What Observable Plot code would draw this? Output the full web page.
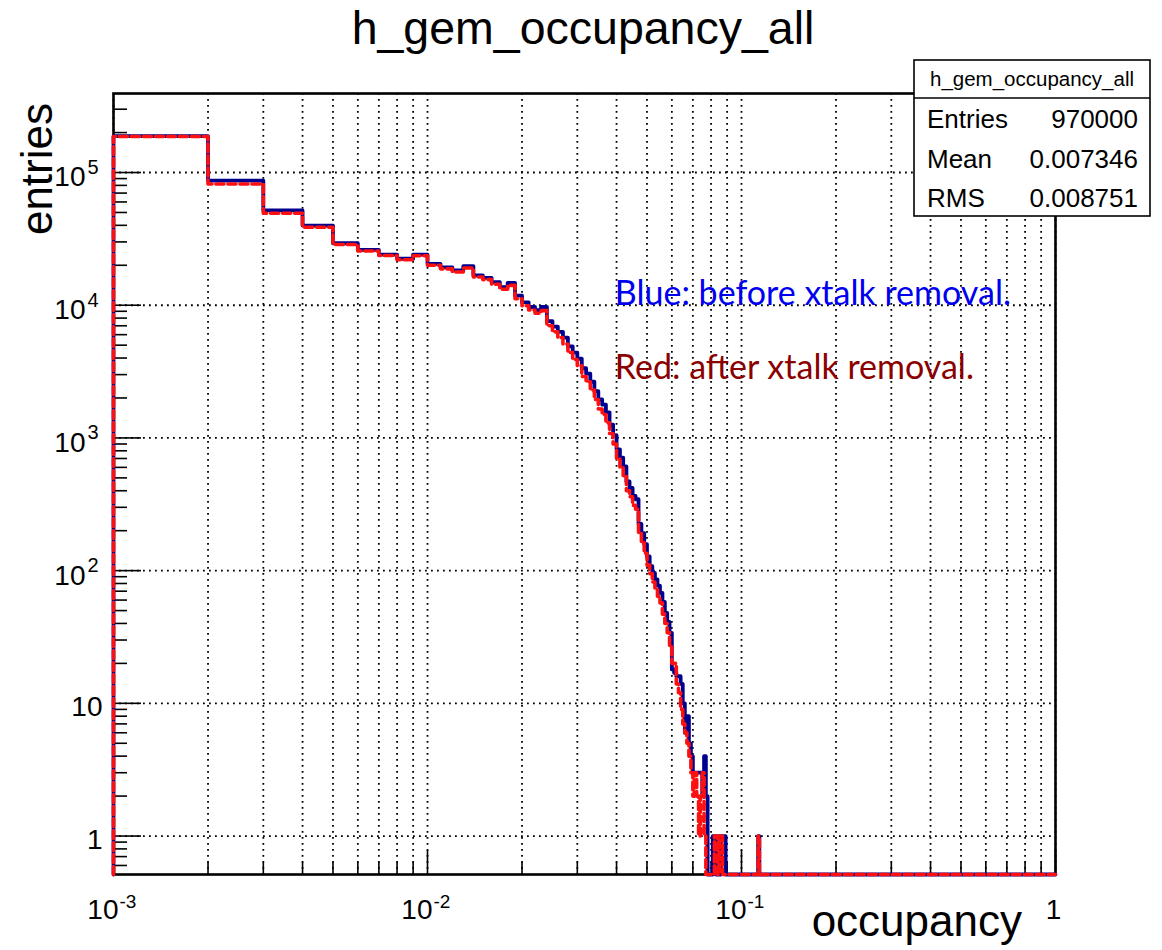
<!DOCTYPE html>
<html><head><meta charset="utf-8">
<script src="https://cdn.jsdelivr.net/npm/d3@7"></script>
<script src="https://cdn.jsdelivr.net/npm/@observablehq/plot@0.6"></script>
<style>
body{margin:0;background:#fff;}
#chart{position:relative;width:1162px;height:950px;}
#chart svg{overflow:visible;}
</style>
</head><body><div id="chart"></div>
<script>
// ---- data (bins of width 0.001, bin k covers [k*0.001,(k+1)*0.001)) ----
const binWidth = 0.001;
const blueCounts = [188000,87000,51800,39800,29300,26100,24100,22400,24100,20500,
  19300,18300,19700,16800,16100,14900,13700,14700,11800,10500,
  9700,9200,9700,7600,6900,6300,5700,4900,4400,3950,
  3350,3050,2650,2250,1950,1780,1560,1260,1050,820,
  710,610,470,420,365,345,225,192,158,128,
  108,96,86,77,68,58,48,41,34,18,
  17,16,16,14,10,6,8,5,4,3,
  3,3,3,3,2,4,2,0,0,0,
  1,1,0,1,0,1,1,1,0];
const redCounts = [187000,82000,49300,38700,28700,25600,23700,22000,23600,20000,
  18800,17800,19100,16300,15600,14400,13200,14100,11200,9900,
  9200,8700,9100,7000,6300,5700,5100,4400,3900,3500,
  2900,2650,2300,1950,1650,1500,1300,1080,900,700,
  600,520,400,360,310,290,190,165,135,110,
  95,82,74,64,57,47,40,34,27,20,
  20,14,12,9,7,6,5,4,3,2,
  3,2,1,2,3,1,0,0,0,0,
  0,1,1,0,1,1,0,0,0];
const tailBins = [113];      // isolated far-tail bin
const tailBlue = [1];
const tailRed = [1];
const xRangeEnd = 1;

const statsNames = ["Entries","Mean","RMS"];
const statsValues = ["970000","0.007346","0.008751"];
const histName = "h_gem_occupancy_all";

const xPowTicks = [0.001, 0.01, 0.1];
const xPowLabels = ["-3","-2","-1"];
const xPlainTicks = [1];
const xPlainLabels = ["1"];
const yPlainTicks = [1, 10];
const yPlainLabels = ["1","10"];
const yPowTicks = [100, 1000, 10000, 100000];
const yPowLabels = ["2","3","4","5"];

const annotTexts = ["Blue: before xtalk removal.", "Red: after xtalk removal."];
const annotX = [0.0395, 0.0395];
const annotY = [10000, 2800];
const annotColors = ["#0000f0", "#8b0000"];

// ---- scales ----
const yMin = 0.513, yMax = 3.94e5;
const W = 1162, H = 950, mL = 113, mR = 107, mT = 93, mB = 76;
const frameW = W - mL - mR, frameH = H - mT - mB;
const FONT = "'Liberation Sans', Arial, Helvetica, sans-serif";

function series(counts, tail) {
  const pts = [{x: binWidth, y: yMin}];
  counts.forEach((c, i) => pts.push({x: (i + 1) * binWidth, y: Math.max(c, yMin)}));
  const lastBin = counts.length;
  let k = lastBin + 1;
  tailBins.forEach((b, j) => {
    for (; k < b; k++) pts.push({x: k * binWidth, y: yMin});
    pts.push({x: b * binWidth, y: Math.max(tail[j], yMin)});
    k = b + 1;
  });
  pts.push({x: k * binWidth, y: yMin});
  pts.push({x: xRangeEnd, y: yMin});
  return pts;
}
const blueData = series(blueCounts, tailBlue);
const redData = series(redCounts, tailRed);

// tick positions
const xMajor = [0.001, 0.01, 0.1, 1];
const xMinor = [];
[0.001, 0.01, 0.1].forEach(d => { for (let m = 2; m <= 9; m++) xMinor.push(m * d); });
const yMajor = [1, 10, 100, 1000, 10000, 100000];
const yMinor = [];
[0.1, 1, 10, 100, 1000, 10000, 100000].forEach(d => { for (let m = 2; m <= 9; m++) { const v = m * d; if (v > yMin && v < yMax) yMinor.push(v); } });

const gridStyle = {stroke: "black", strokeOpacity: 1, strokeWidth: 1.8, strokeDasharray: "1.8,4.2"};

const svg = Plot.plot({
  width: W, height: H,
  marginLeft: mL, marginRight: mR, marginTop: mT, marginBottom: mB,
  x: {type: "log", domain: [0.001, 1], axis: null},
  y: {type: "log", domain: [yMin, yMax], axis: null},
  marks: [
    Plot.gridX(xMajor.concat(xMinor), gridStyle),
    Plot.gridY(yMajor, gridStyle),
    Plot.ruleX(xMajor, {x: d => d, insetTop: frameH - 24, stroke: "black", strokeWidth: 1.6}),
    Plot.ruleX(xMinor, {x: d => d, insetTop: frameH - 12, stroke: "black", strokeWidth: 1.6}),
    Plot.ruleY(yMajor, {y: d => d, insetRight: frameW - 28, stroke: "black", strokeWidth: 1.6}),
    Plot.ruleY(yMinor, {y: d => d, insetRight: frameW - 14, stroke: "black", strokeWidth: 1.6}),
    Plot.frame({stroke: "black", strokeWidth: 2.6}),
    Plot.line(blueData, {x: "x", y: "y", curve: "step-after", stroke: "#00008f", strokeWidth: 3.8}),
    Plot.line(redData, {x: "x", y: "y", curve: "step-after", stroke: "#ff1010", strokeWidth: 3.6, strokeDasharray: "8,4"}),
    // x tick labels
    Plot.text(xPowTicks, {x: d => d, frameAnchor: "bottom", text: () => "10", textAnchor: "end", lineAnchor: "bottom", dx: 5, dy: 44, fontSize: 28, fontFamily: FONT, fill: "black"}),
    Plot.text(xPowTicks, {x: d => d, frameAnchor: "bottom", text: xPowLabels, textAnchor: "start", lineAnchor: "bottom", dx: 6, dy: 33, fontSize: 19, fontFamily: FONT, fill: "black"}),
    Plot.text(xPlainTicks, {x: d => d, frameAnchor: "bottom", text: xPlainLabels, textAnchor: "middle", lineAnchor: "bottom", dx: -2, dy: 44, fontSize: 28, fontFamily: FONT, fill: "black"}),
    // y tick labels
    Plot.text(yPlainTicks, {y: d => d, frameAnchor: "left", text: yPlainLabels, textAnchor: "end", dx: -11, dy: 4, fontSize: 28, fontFamily: FONT, fill: "black"}),
    Plot.text(yPowTicks, {y: d => d, frameAnchor: "left", text: () => "10", textAnchor: "end", dx: -28, dy: 5, fontSize: 28, fontFamily: FONT, fill: "black"}),
    Plot.text(yPowTicks, {y: d => d, frameAnchor: "left", text: yPowLabels, textAnchor: "start", dx: -26, dy: -5, fontSize: 20, fontFamily: FONT, fill: "black"}),
    // annotations
    Plot.text(annotTexts, {x: annotX, y: annotY, text: d => d, fill: annotColors, textAnchor: "start", lineAnchor: "bottom", fontSize: 34, fontFamily: "Lato, 'Open Sans', sans-serif"})
  ]
});
svg.style.background = "white";
document.getElementById("chart").appendChild(svg);

const s = d3.select(svg);
// title
s.append("text").attr("x", 583).attr("y", 44).attr("text-anchor", "middle")
  .attr("font-family", FONT).attr("font-size", 46.5).attr("fill", "black").text(histName);
// axis titles
s.append("text").attr("x", 1022).attr("y", 936).attr("text-anchor", "end")
  .attr("font-family", FONT).attr("font-size", 44).attr("fill", "black").text("occupancy");
s.append("text").attr("transform", "translate(52,103) rotate(-90)").attr("text-anchor", "end")
  .attr("font-family", FONT).attr("font-size", 44).attr("fill", "black").text("entries");
// stats box
const g = s.append("g");
g.append("rect").attr("x", 914).attr("y", 60).attr("width", 236).attr("height", 156)
  .attr("fill", "white").attr("stroke", "black").attr("stroke-width", 1.6);
g.append("line").attr("x1", 914).attr("x2", 1150).attr("y1", 98).attr("y2", 98)
  .attr("stroke", "black").attr("stroke-width", 1.6);
g.append("text").attr("x", 1032).attr("y", 86).attr("text-anchor", "middle")
  .attr("font-family", FONT).attr("font-size", 20.5).attr("fill", "black").text(histName);
statsNames.forEach((n, i) => {
  const yb = 128 + i * 39.5;
  g.append("text").attr("x", 927).attr("y", yb).attr("text-anchor", "start").attr("font-family", FONT).attr("font-size", 26).attr("fill", "black").text(n);
  g.append("text").attr("x", 1138).attr("y", yb).attr("text-anchor", "end").attr("font-family", FONT).attr("font-size", 26).attr("fill", "black").text(statsValues[i]);
});
</script></body></html>
